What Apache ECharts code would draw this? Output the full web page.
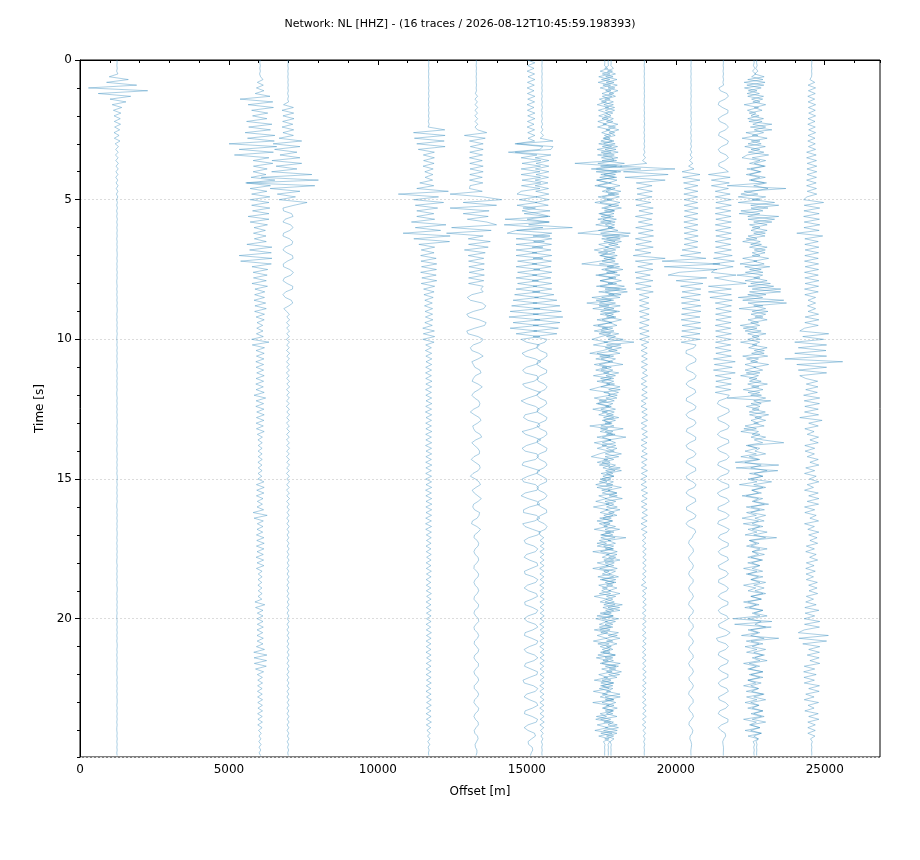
<!DOCTYPE html>
<html><head><meta charset="utf-8">
<script src="https://cdn.jsdelivr.net/npm/echarts@6/dist/echarts.min.js"></script>
<style>html,body{margin:0;padding:0;background:#fff}#c{width:920px;height:860px}</style>
</head><body><div id="c"></div>
<script>
// Trace offsets [m]
const offsets = [1242, 6043, 6983, 11706, 13304, 15140, 15509, 17614, 17735, 17826, 18944, 20512, 21596, 22626, 22717, 24563];
const xTicks = [0, 5000, 10000, 15000, 20000, 25000];
const yTicks = [0, 5, 10, 15, 20];
// Sample spacing [s]; each row below = 1 s of a trace (deflection in m)
const dt = 0.1;

const trA = [
0,4,-5,8,-12,30,-260,380,-350,660,
-960,1030,-630,460,-235,300,-160,160,-120,130,
-100,110,-90,120,-80,90,-100,70,-90,100,
-60,50,-45,40,-50,35,-40,45,-30,40,
-35,30,-40,25,-30,35,-25,30,-20,25,
-15,12,-10,14,-12,8,-10,12,-8,10,
-6,8,-5,7,-9,6,-4,7,-6,5,
7,-5,8,-6,5,-7,9,-5,6,-8,
-5,6,-8,5,-7,6,-5,8,-6,7,
6,-7,5,-8,6,-5,7,-6,8,-5,
-7,5,-6,8,-5,7,-6,5,-8,6,
5,-8,6,-5,7,-6,5,-7,6,-8,
-6,7,-5,6,-8,5,-7,6,-5,7,
8,-6,7,-5,6,-7,5,-8,6,-5,
-5,7,-6,8,-5,6,-7,5,-6,8,
6,-5,8,-7,5,-6,8,-5,7,-6,
-8,6,-5,7,-6,8,-5,6,-7,5,
5,-6,7,-8,6,-5,7,-6,5,-7,
-7,8,-6,5,-7,6,-8,5,-6,7,
6,-7,5,-6,8,-5,6,-7,5,-8,
-5,6,-7,8,-5,7,-6,5,-8,6,
7,-5,6,-8,5,-7,6,-5,7,-6,
-6,8,-5,7,-6,5,-7,8,-5,6,
5,-7,8,-6,7,-5,6,-8,5,-7,
-7,6,-5,8,-6,7,-5,6,-7,5];

const trB = [
5,-8,10,-6,12,-15,20,100,-90,110,
-120,130,-160,335,-670,430,-400,450,-280,260,
-250,230,-450,400,-380,350,-500,500,-420,480,
-1040,560,-700,450,-860,300,-230,430,-220,240,
-230,200,-300,500,-480,350,-330,230,-280,330,
-330,300,-280,330,-250,300,-400,300,-330,250,
-200,180,-220,200,-190,210,-440,400,-350,380,
-700,400,-650,380,-270,260,-230,240,-220,210,
-270,250,-170,160,-180,150,-200,190,-170,210,
-180,150,-130,140,-100,90,-110,100,-120,110,
-280,300,-260,150,-130,140,-120,130,-140,120,
-130,120,-110,140,-130,120,-140,110,-130,140,
-200,190,-130,120,-140,130,-110,140,-120,130,
-130,110,-120,140,-90,80,-70,75,-60,70,
-65,70,-60,75,-70,65,-60,70,-65,60,
-70,130,-120,140,-110,130,-120,100,-90,80,
-100,120,-230,240,-200,110,-90,100,-100,90,
-120,130,-110,140,-120,130,-100,110,-130,120,
-100,130,-120,70,-60,70,-65,60,-70,65,
-60,70,-65,60,-170,160,-150,100,-90,100,
-95,100,-90,110,-100,90,-100,110,-95,100,
-120,150,-210,230,-200,220,-190,210,-150,120,
-90,80,-75,85,-80,70,-85,75,-80,85,
-75,80,-70,85,-80,75,-70,80,-75,70,
-50,40,-35,30,-40,35,-30,25,-30,20];

const trC = [
0,5,-5,8,-6,5,-8,6,-5,8,
-6,10,-12,15,-10,20,-150,180,-200,190,
-170,200,-180,160,-200,190,-170,180,-300,460,
-500,400,-450,300,-270,400,-540,460,-400,300,
-550,800,-900,1020,-1380,900,-600,400,-360,250,
-300,640,200,-170,-150,120,170,-100,-170,90,
170,60,-150,-170,50,160,130,-100,-170,-40,
150,170,-20,-160,-150,60,180,100,-120,-170,
-30,160,150,-80,-170,-90,110,160,30,-140,
-50,45,-40,55,-50,40,-45,50,-40,45,
-55,50,-45,40,-50,55,-40,45,-50,40,
-45,50,-55,40,-45,50,-40,55,-50,45,
-40,45,-50,40,-55,45,-40,50,-45,40,
-50,45,-40,50,-45,40,-50,45,-40,50,
-45,40,-50,45,-40,50,-45,40,-50,45,
-40,50,-45,40,-50,45,-40,50,-45,40,
-35,40,-30,35,-40,30,-35,40,-30,35,
-30,25,-35,30,-25,35,-30,25,-30,35,
-25,30,-35,25,-30,35,-25,30,-35,25,
-30,25,-30,35,-25,30,-35,25,-30,30,
-25,35,-30,25,-35,30,-25,30,-30,25,
-30,30,-25,35,-30,25,-30,35,-25,30,
-35,25,-30,30,-25,35,-30,25,-35,30,
-25,30,-35,25,-30,30,-25,35,-30,25,
-30,25,-20,30,-25,20,-15,20,-10,10];

const trD = [
0,5,-4,6,-5,4,-6,5,-4,6,
-5,8,-6,10,-8,6,-10,8,-6,10,
-8,10,-12,15,-20,540,-510,550,-480,520,
-400,550,-350,190,-180,190,-170,180,-190,150,
-130,140,-120,130,-300,170,-400,660,-1020,330,
-500,500,-450,300,-400,170,-400,200,-580,580,
-450,400,-860,720,-500,700,-330,200,-250,180,
-270,250,-260,270,-240,260,-270,250,-230,270,
-250,200,-170,180,-160,150,-130,120,-140,130,
-120,130,-110,140,-130,120,-200,190,-180,200,
-200,180,-100,90,-110,100,-95,105,-90,100,
-100,95,-105,90,-100,110,-95,100,-105,90,
-95,100,-90,105,-100,95,-110,100,-90,95,
-100,90,-95,105,-100,90,-95,100,-105,95,
-90,100,-95,90,-100,105,-95,90,-100,95,
-100,95,-90,100,-105,90,-95,100,-90,105,
-95,100,-90,95,-100,90,-105,95,-100,90,
-80,85,-75,80,-90,75,-80,85,-70,80,
-85,75,-80,90,-75,80,-85,70,-80,75,
-80,90,-70,80,-85,75,-80,85,-75,80,
-75,80,-85,70,-80,90,-75,80,-85,75,
-80,75,-90,80,-70,85,-80,75,-85,80,
-85,80,-75,85,-80,70,-90,80,-75,85,
-70,85,-80,75,-85,80,-75,90,-80,70,
-60,50,-40,45,-30,35,-20,15,-10,5];

const trE = [
0,4,-5,6,-4,5,-6,4,-5,6,
-5,6,-30,40,-45,35,-40,50,-45,40,
-50,45,-40,50,-45,40,350,-400,300,-230,
230,-200,230,-220,210,-230,200,-220,230,-210,
230,-220,200,-230,220,-210,-230,200,-880,230,
850,-440,680,-880,430,-440,400,-300,350,680,
-830,500,-1000,230,-270,470,-260,400,-400,300,
-270,250,-260,270,-250,260,-240,270,-260,250,
-260,230,150,230,-150,-300,-200,200,320,250,
-100,-320,-250,100,330,280,-50,-320,-280,60,
230,150,-100,-200,-150,90,230,60,-150,-100,
-50,120,160,-30,-100,-140,60,200,80,-80,
-150,-60,80,120,90,-90,-200,-60,100,160,
40,-120,-90,-30,130,180,-20,-150,-60,50,
110,100,-80,-170,-40,100,130,60,-110,-200,
-30,90,140,-10,-140,-70,50,170,60,-90,
-120,-60,110,90,30,-130,-160,20,140,60,
-60,-80,30,80,60,-40,-80,-40,60,80,
20,-70,-80,10,80,60,-40,-80,-40,50,
80,30,-60,-80,0,80,60,-50,-80,-20,
70,80,-10,-80,-60,40,80,40,-60,-70,
10,80,60,-50,-80,-20,70,70,-20,-80,
-50,50,80,20,-70,-70,30,80,40,-60,
-80,-10,80,60,-40,-80,-30,60,70,-10,
-70,-50,40,60,10,-40,-30,20,20,-10];

const trF = [
-120,130,-110,100,-130,120,-100,130,-120,110,
-130,100,-120,130,-110,120,-130,100,-120,130,
-110,130,-120,100,-130,120,-110,130,-100,120,
-540,400,300,-760,200,-330,330,-300,320,-330,
300,-330,320,-300,330,-320,300,-330,-470,200,
-400,200,-470,150,-300,250,640,-870,600,-900,
400,-500,-800,640,-500,450,-500,400,-500,200,
-500,400,-450,200,-500,300,-450,200,-500,250,
-450,200,-500,300,-550,250,-600,200,-650,300,
-700,250,-740,300,-600,250,-700,200,-500,300,
-330,-150,280,200,-100,-300,-180,150,330,150,
-150,-280,-200,200,250,100,-280,-200,50,320,
180,-100,-330,-150,150,280,200,-200,-250,-100,
250,300,50,-300,-180,100,330,150,-150,-300,
-200,200,250,150,-250,-300,0,300,180,-100,
-300,-250,150,250,200,-200,-330,-100,200,300,
-50,-250,-250,180,300,120,-280,-200,50,320,
230,-80,-230,-180,100,230,150,-150,-230,-50,
200,230,0,-220,-200,80,230,160,-120,-230,
-80,180,220,30,-210,-200,60,230,170,-100,
-230,-120,150,230,60,-200,-220,20,230,190,
-60,-230,-150,120,230,100,-180,-220,0,220,
200,-50,-270,-230,80,230,150,-150,-230,-50,
180,230,50,-200,-220,40,220,180,-100,-230,
-100,120,150,20,-100,-80,40,60,10,-20];

const trG = [
0,5,-5,6,-5,8,-6,5,-8,6,
-5,8,-10,8,-12,10,-8,12,-10,8,
-10,12,-15,20,-25,30,-40,50,-60,370,
-850,370,300,-900,300,-230,230,-200,230,-220,
230,-200,220,-230,200,-230,220,-210,230,-200,
230,-220,210,-640,270,-600,200,-500,250,-450,
1020,-850,330,-300,330,-280,320,-330,300,-330,
330,-300,320,-330,300,-280,330,-320,300,-330,
330,-300,330,-320,400,-250,500,-300,600,-280,
650,-300,700,-250,600,-300,550,-280,500,-300,
170,100,-150,-170,-60,160,170,40,-150,-170,
-30,160,150,-60,-170,-120,80,170,100,-110,
-170,-80,130,160,40,-150,-160,20,170,130,
-80,-170,-60,140,170,50,-150,-160,10,170,
140,-90,-170,-70,120,170,60,-140,-170,0,
160,150,-60,-170,-110,90,170,90,-120,-160,
-20,150,160,-40,-170,-120,80,170,110,-100,
-70,60,-65,70,-60,75,-70,65,-60,70,
-65,70,-75,60,-70,65,-60,70,-75,65,
-70,60,-65,75,-70,60,-65,70,-60,75,
-60,70,-75,65,-60,70,-65,60,-70,65,
-75,65,-60,70,-65,75,-70,60,-65,70,
-65,70,-60,65,-75,60,-70,65,-60,70,
-70,65,-75,60,-65,70,-60,75,-70,60,
-50,40,-35,30,-20,15,-10,8,-5,3];

const trH = [
0,5,-5,100,-150,180,-200,170,-220,200,
-150,210,-90,240,-180,60,-250,130,-210,90,
-200,120,-230,60,-240,180,-100,200,-60,250,
-200,230,-250,220,-240,260,300,-1000,400,-450,
400,-130,330,-250,100,-330,200,-80,330,-220,
120,-330,220,-100,330,-150,300,-60,220,-300,
330,-150,-900,500,-100,350,-200,130,-350,100,
-130,300,-150,-770,300,-100,350,-200,380,-150,
400,-150,500,-200,550,-100,300,-600,150,-400,
400,-150,380,-90,250,-380,100,-350,200,-120,
-430,100,-380,250,-60,-500,300,-120,180,-350,
80,-300,150,-380,220,-100,330,-150,-500,120,
180,-350,60,-280,150,-400,90,-200,300,-80,
250,-500,100,-150,350,-80,200,-350,60,-250,
150,-180,-450,100,-250,180,-60,350,-120,300,
-150,80,-300,250,-100,400,-200,60,-300,150,
-380,100,-150,280,-60,250,-180,90,-350,200,
-100,350,-180,60,-250,300,-400,150,-80,300,
-250,120,-400,150,-80,300,-150,380,-200,90,
-100,200,-350,80,-150,350,-60,300,-150,280,
-300,90,-180,200,-350,100,-250,60,-380,150,
-150,180,-60,350,-280,120,-150,380,-100,250,
-200,100,-350,280,-80,150,-380,90,-150,300,
-400,150,-80,300,-150,60,-300,200,-250,100,
-330,250,-200,150,-40,10,-5,5,-3,0];

const trI = [
0,-5,5,-120,140,-200,160,-230,190,-180,
220,-90,180,-200,60,-230,170,-100,210,-60,
90,-210,150,-180,240,-80,210,-130,60,-250,
230,-200,260,-240,200,-230,280,-350,450,-400,
420,-150,280,-400,100,-350,230,-80,350,-200,
120,-280,350,-130,200,-320,80,-350,230,-100,
150,-330,740,-200,400,-150,330,-100,250,-330,
300,-150,230,-300,380,-100,300,-420,150,-280,
150,-400,600,-100,200,-550,100,-300,400,-150,
380,-100,200,-380,80,-350,150,-250,350,-60,
500,-150,420,-100,300,-380,60,-420,150,-300,
100,-250,350,-80,180,-380,60,-250,400,-150,
300,-80,200,-350,100,-250,200,-60,350,-150,
80,-250,500,-100,150,-380,90,-200,250,-60,
200,-100,350,-150,60,-300,400,-90,150,-180,
90,-300,150,-380,60,-200,300,-100,250,-80,
300,-80,200,-150,100,-380,60,-150,380,-100,
150,-250,80,-380,180,-100,300,-60,250,-150,
200,-80,300,-150,60,-350,250,-100,150,-200,
80,-300,250,-60,200,-150,380,-90,100,-380,
350,-100,150,-300,60,-250,300,-80,150,-350,
100,-200,60,-350,150,-180,400,-100,250,-60,
380,-150,90,-250,150,-300,80,-200,400,-100,
250,-60,300,-100,150,-400,80,-150,300,-100,
300,-250,180,-120,50,-10,5,-5,3,0];

const trJ = [
0,5,-5,80,-120,150,-180,200,-160,210,
-100,230,-60,150,-210,80,-240,120,-190,60,
-220,80,-150,230,-90,260,-60,140,-230,100,
-250,220,-200,240,-260,230,-300,450,-350,1000,
-500,150,-380,200,-80,300,-150,330,-100,280,
-130,300,-80,350,-220,100,-330,180,-350,120,
-100,230,-350,600,-150,350,-80,300,-250,130,
-380,150,-300,250,-130,400,-150,300,-80,350,
-100,450,-200,550,-80,300,-500,150,-400,100,
-350,80,-150,350,-60,200,-300,100,-400,150,
-100,770,-150,350,-80,300,-380,150,-90,400,
-300,60,-250,150,-350,90,-150,300,-80,250,
-90,200,-400,60,-180,150,-300,80,-250,150,
-200,100,-350,60,-150,500,-80,150,-300,200,
-60,350,-200,90,-300,150,-80,350,-150,100,
-300,80,-150,350,-100,200,-60,380,-200,90,
-150,300,-80,200,-380,60,-250,150,-200,100,
-350,500,-100,150,-250,60,-350,200,-80,300,
-200,90,-380,150,-60,250,-300,100,-150,200,
-80,300,-150,60,-200,380,-100,300,-250,80,
-300,150,-200,60,-380,250,-90,300,-150,200,
-150,60,-350,150,-200,80,-300,250,-60,350,
-80,200,-300,100,-350,60,-150,300,-200,90,
-300,100,-250,60,-150,200,-350,80,-100,250,
-250,200,-150,100,-30,10,-5,3,-2,0];

const trK = [
0,4,-5,6,-4,5,-6,4,-5,6,
-5,6,-4,8,-6,5,-8,6,-5,8,
-6,10,-8,12,-10,8,-12,10,-8,12,
-10,12,-15,20,-30,40,-60,80,-800,1030,
-700,800,-650,700,-270,260,-250,270,-240,260,
-300,220,-280,300,-180,280,-300,250,-200,280,
-290,300,-200,310,-300,240,-280,300,-310,220,
-370,700,-300,280,-220,290,-310,200,-280,290,
-300,230,-280,300,-170,160,-170,150,-160,170,
-170,160,-150,170,-160,150,-170,160,-150,170,
-160,150,-100,95,-105,100,-90,100,-95,105,
-100,90,-60,110,-95,70,-105,100,-80,95,
-90,105,-100,60,-110,95,-85,100,-70,110,
-105,80,-95,100,-65,110,-100,90,-105,75,
-80,100,-110,95,-90,70,-100,105,-95,90,
-100,65,-105,90,-100,110,-75,95,-100,85,
-95,100,-70,105,-90,95,-110,80,-100,95,
-60,55,-65,50,-60,65,-55,60,-50,65,
-55,60,-50,65,-60,55,-65,50,-100,90,
-60,55,-65,60,-50,65,-55,60,-65,50,
-55,65,-60,50,-65,55,-60,65,-50,60,
-65,50,-60,55,-65,60,-55,50,-60,65,
-50,60,-55,65,-60,50,-65,55,-60,55,
-60,65,-50,60,-55,65,-60,50,-65,55,
-45,40,-30,25,-20,15,-10,5,-3,0];

const trL = [
0,4,-5,6,-4,5,-6,4,-5,6,
-5,6,-4,8,-6,5,-8,6,-5,8,
-6,10,-8,12,-10,8,-12,10,-8,12,
-10,15,-20,25,-30,40,-50,60,-80,100,
-300,300,-280,300,-250,230,-220,230,-240,220,
-230,220,-230,240,-220,230,-230,220,-240,230,
-230,220,-230,240,-220,230,-230,220,-300,330,
-350,500,-970,970,-900,870,-400,-770,530,-500,
400,-350,330,-300,320,-330,300,-320,330,-300,
330,-320,300,-330,320,-300,330,-310,300,-330,
300,-330,170,100,-160,-170,50,170,150,-60,
-170,-140,80,170,120,-90,-170,-60,130,160,
20,-150,-160,40,170,130,-80,-170,-90,120,
170,70,-130,-160,10,160,150,-50,-170,-110,
90,170,90,-120,-170,-30,150,160,-20,-160,
-130,60,170,110,-100,-170,-50,140,160,0,
-150,-150,40,170,120,-90,-170,-70,120,160,
80,40,-60,-80,-10,70,80,0,-80,-60,
30,80,50,-50,-80,-20,70,70,-30,-80,
-50,40,80,30,-60,-80,0,80,60,-40,
-80,-30,60,80,10,-70,-70,20,80,50,
-50,-80,-10,70,70,-20,-80,-40,50,80,
20,-70,-60,30,80,40,-60,-80,0,70,
70,-20,-80,-40,50,80,20,-60,-70,10,
60,40,-30,-40,0,20,10,-5,-5,0];

const trM = [
0,4,-5,6,-8,6,-10,8,-12,10,
-150,-100,120,170,60,-140,-170,-30,160,150,
-40,-170,-120,90,170,80,-130,-160,10,170,
140,-60,-170,-110,100,170,50,-150,-150,40,
170,-500,230,-400,200,-400,170,-270,230,-270,
270,-250,270,-260,250,-270,260,-250,270,-270,
250,-260,270,-250,260,-270,250,-260,270,-300,
300,-330,370,-350,330,-270,-400,430,-300,200,
770,-500,270,-500,270,-450,300,-270,270,-250,
270,-260,270,-250,260,-270,250,-260,270,-250,
270,-260,250,-270,260,-250,270,-330,400,-300,
300,-330,400,-270,260,-250,270,-260,250,-270,
200,120,-150,-200,-50,180,200,20,-190,-160,
60,200,150,-100,-200,-80,170,190,-20,-200,
-130,100,200,110,-150,-190,0,200,150,-90,
-200,-60,180,190,-40,-200,-120,130,200,50,
-170,-180,70,200,100,-150,-190,20,200,130,
-110,-170,-30,170,160,-60,-170,-90,140,170,
0,-170,-130,100,170,60,-150,-160,40,170,
120,-90,-170,-50,160,150,-60,-170,-100,120,
170,10,-160,-140,80,230,100,-230,-180,90,
170,80,-140,-170,-10,170,130,-90,-170,-40,
160,150,-60,-170,-100,120,170,20,-160,-140,
70,170,90,-120,-170,-30,160,150,-60,-170,
-80,60,80,20,-20,-10,5,5,0,0];

const trN = [
0,5,-20,30,-50,60,-80,300,-330,330,
-320,100,-230,320,-80,200,-330,150,-220,60,
-100,320,-170,600,-120,600,-270,130,-400,200,
-200,380,-100,330,-230,-400,200,-150,380,-100,
200,-150,380,-100,350,-900,1070,-330,130,-530,
200,-530,830,-100,300,-500,830,-200,600,-150,
200,-100,380,-200,100,-380,250,-150,380,-60,
200,-380,100,-470,530,-150,300,-570,200,-300,
550,-200,900,-150,400,-530,1000,-200,300,-500,
470,-100,300,-200,150,-460,100,-300,400,-60,
200,-450,100,-180,350,-80,460,-250,120,-300,
60,-300,200,-450,100,-150,450,-80,300,-200,
250,-900,560,-100,200,-60,380,-150,250,-100,
150,-300,80,-440,200,-100,300,1000,-200,100,
-300,80,-440,150,-630,830,-600,800,-150,300,
-200,100,-490,300,-80,250,-400,150,-60,350,
-100,350,-250,80,-400,150,-60,300,-200,100,
-300,760,-150,80,-250,200,-60,350,-100,250,
-80,190,-350,100,-200,300,-90,200,-350,60,
-200,300,-100,250,-350,80,-150,300,-60,200,
-700,600,-650,580,-200,130,-420,830,-100,300,
-300,100,-250,350,-60,200,-350,80,-150,300,
-100,300,-200,60,-350,150,-80,300,-250,100,
-300,150,-60,300,-100,250,-350,80,-150,200,
-300,250,-200,150,-30,20,-10,10,-5,5];

const trO = [
0,-5,15,-30,40,-70,250,-300,280,-330,
150,-280,90,-300,200,-130,300,-80,180,-250,
80,-300,180,-130,300,-80,230,-150,350,-180,
150,-400,100,-280,400,-150,300,-80,250,-330,
150,-350,100,-250,330,-100,380,-150,-530,300,
-150,600,-200,380,-530,100,-300,600,-100,350,
-150,350,-100,280,-350,120,-200,350,-80,280,
-150,400,-100,250,-400,150,-380,200,-100,350,
-200,570,-150,800,-300,200,-470,1000,-100,300,
-150,300,-60,350,-200,100,-450,150,-300,80,
-300,100,-150,350,-80,250,-470,60,-200,400,
-100,200,-350,60,-250,150,-300,80,-450,100,
-200,300,-100,150,-350,80,-250,400,-60,300,
-100,250,-430,60,-150,300,-80,200,-350,100,
-60,300,-250,100,-400,150,-200,350,-80,200,
-200,500,-100,300,-150,60,-350,200,-100,400,
-350,100,-200,300,-60,250,-450,100,-150,350,
-100,300,-250,80,-200,350,-150,60,-300,200,
-300,100,-150,200,-350,60,-200,300,-100,250,
-60,300,-200,150,-300,80,-400,200,-80,350,
-300,150,-60,300,-200,100,-200,250,-350,80,
-150,300,-100,200,-60,350,-250,100,-300,200,
-250,100,-300,150,-200,60,-350,250,-100,300,
-200,80,-300,200,-100,250,-150,300,-200,100,
-200,150,-100,50,-20,10,-5,5,-3,0];

const trP = [
0,4,-5,6,-4,5,-6,-60,100,-120,
130,-110,120,-130,100,-120,130,-110,120,-100,
130,-120,110,-130,120,-100,130,-120,110,-130,
120,-110,130,-170,150,-170,160,-150,170,-160,
170,-150,160,-170,150,-170,160,-150,170,-160,
-270,400,-250,270,-260,250,-270,260,-250,270,
-260,250,-500,370,-230,220,-230,240,-220,230,
-230,220,-240,230,-220,230,-240,220,-230,240,
-220,230,-240,220,-230,130,-120,130,-140,130,
-120,230,-220,240,-230,220,-240,-400,570,-300,
400,-570,500,-450,480,-570,500,-900,1040,-500,
500,-450,500,-400,-200,200,-180,210,-200,190,
-270,270,-250,260,-230,220,-240,230,-400,350,
-100,220,-230,80,-150,230,-60,220,-230,100,
-220,90,-150,220,-60,240,-200,100,-240,150,
-80,240,-150,60,-240,220,-100,240,-150,230,
-240,100,-230,150,-60,230,-240,90,-130,240,
-100,180,-60,200,-180,90,-200,150,-70,200,
-180,80,-200,120,-190,60,-180,190,-100,180,
-90,200,-180,60,-200,150,-230,240,-220,100,
-250,270,-240,260,-250,-450,560,-430,500,-300,
270,-100,260,-150,250,-60,270,-250,100,-270,
150,-260,90,-250,260,-100,250,-200,80,-250,
230,-120,80,-230,220,-100,240,-130,120,-130,
120,-130,110,-40,20,-10,5,-5,3,0];

const traces = [trA, trB, trC, trD, trE, trF, trG, trH, trI, trJ, trK, trL, trM, trN, trO, trP];

const FONT = 'DejaVu Sans';
const X_MAX = 26856, Y_MAX = 24.95;
const chart = echarts.init(document.getElementById('c'), null, {renderer: 'canvas'});

const series = offsets.map((off, k) => ({
  type: 'line',
  data: traces[k].map((a, i) => [off + a, Math.round(i * dt * 100) / 100]),
  symbol: 'none',
  showSymbol: false,
  silent: true,
  clip: true,
  lineStyle: {width: 0.6, color: '#3a8fc0', opacity: 0.72},
  z: 3
}));

const lbl = {fontFamily: FONT, fontSize: 12, color: '#000'};

chart.setOption({
  animation: false,
  backgroundColor: '#ffffff',
  title: {
    text: 'Network: NL [HHZ] - (16 traces / 2026-08-12T10:45:59.198393)',
    left: 'center', top: 14,
    textStyle: {fontFamily: FONT, fontSize: 11, fontWeight: 'normal', color: '#000'}
  },
  grid: {left: 80, top: 60, width: 800, height: 697, show: true, borderColor: '#000', borderWidth: 1, backgroundColor: 'transparent'},
  xAxis: [{
    type: 'value', min: xTicks[0], max: X_MAX, interval: xTicks[1] - xTicks[0], position: 'bottom',
    name: 'Offset [m]', nameLocation: 'middle', nameGap: 29, nameTextStyle: lbl,
    axisLine: {show: true, lineStyle: {color: '#000', width: 1}},
    axisTick: {show: true, length: 5, lineStyle: {color: '#000'}},
    axisLabel: Object.assign({margin: 7, showMaxLabel: false,
      formatter: v => xTicks.includes(v) ? String(v) : ''}, lbl),
    splitLine: {show: false}
  }, {
    type: 'value', min: 0, max: X_MAX, interval: 1000, position: 'bottom',
    axisLine: {show: false}, axisLabel: {show: false}, splitLine: {show: false},
    axisTick: {show: true, length: 3, lineStyle: {color: '#000'}}
  }],
  yAxis: [{
    type: 'value', inverse: true, min: yTicks[0], max: Y_MAX, interval: yTicks[1] - yTicks[0], position: 'left',
    name: 'Time [s]', nameLocation: 'middle', nameGap: 30, nameRotate: 90, nameTextStyle: lbl,
    axisLine: {show: true, lineStyle: {color: '#000', width: 1}},
    axisTick: {show: true, length: 5, lineStyle: {color: '#000'}},
    axisLabel: Object.assign({margin: 8, showMaxLabel: false,
      formatter: v => yTicks.includes(v) ? String(v) : ''}, lbl),
    splitLine: {show: true, lineStyle: {color: '#dcdcdc', width: 1, type: [2, 2]}}
  }, {
    type: 'value', inverse: true, min: 0, max: Y_MAX, interval: 1, position: 'left',
    axisLine: {show: false}, axisLabel: {show: false}, splitLine: {show: false},
    axisTick: {show: true, length: 3, lineStyle: {color: '#000'}}
  }],
  series: series
});
</script>
</body></html>
